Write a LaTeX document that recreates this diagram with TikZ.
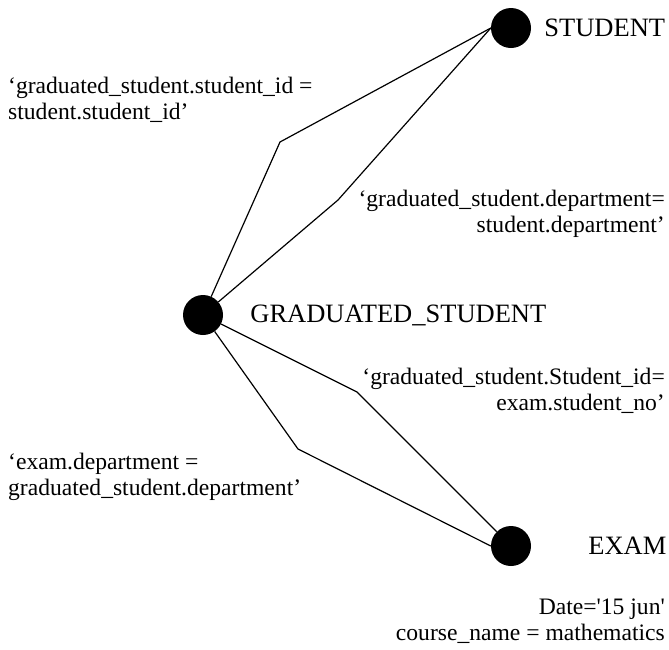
\documentclass[tikz,border=0pt]{standalone}
\usepackage{fontspec}
\setmainfont{Liberation Serif}
\usepackage{tikz}
\usetikzlibrary{positioning}
\tikzstyle{entity} = [circle, fill=black, minimum size=40pt, inner sep=0pt]
\tikzstyle{entlabel} = [font=\fontsize{26.5}{30}\selectfont, inner sep=0pt]
\tikzstyle{cond} = [font=\fontsize{23.6}{25.5}\selectfont, inner sep=0pt]
\tikzset{
  link/.style ={draw, line width=1.2pt, line join=miter}
}
\begin{document}
\begin{tikzpicture}[x=1pt, y=-1pt]
   \useasboundingbox (0,0) rectangle (669,649);
   \node [entity] (student) at (511,28) {};
   \node [entity] (grad_student) at (203,315) {};
   \node [entity] (exam) at (511,546) {};
   \node [entlabel, right=13pt of student] (student_name) {STUDENT};
   \node [entlabel, right=27pt of grad_student] (grad_name) {GRADUATED\_STUDENT};
   \node [entlabel, right=57pt of exam] (exam_name) {EXAM};
   \coordinate (bend_id) at (280,142);
   \coordinate (bend_dep) at (338,200);
   \coordinate (bend_no) at (357,392);
   \coordinate (bend_exdep) at (298,449);
   \node [cond, anchor=west, align=left] (cond_id) at (8,100)
      {`graduated\_student.student\_id =\\student.student\_id'};
   \node [cond, anchor=east, align=right] (cond_dep) at (665,214)
      {`graduated\_student.department=\\student.department'};
   \node [cond, anchor=east, align=right] (cond_no) at (665,391)
      {`graduated\_student.Student\_id=\\exam.student\_no'};
   \node [cond, anchor=west, align=left] (cond_exdep) at (8,477)
      {`exam.department =\\graduated\_student.department'};
   \node [cond, anchor=east, align=right] (exam_cond) at (665,621)
      {Date=\textquotesingle 15 jun\textquotesingle\\course\_name = mathematics};
   \path [link] (grad_student) -- (bend_id) -- (student.west);
   \path [link] (grad_student) -- (bend_dep) -- (student.west);
   \path [link] (grad_student) -- (bend_no) -- (exam);
   \path [link] (grad_student) -- (bend_exdep) -- (exam.west);
\end{tikzpicture}
\end{document}
